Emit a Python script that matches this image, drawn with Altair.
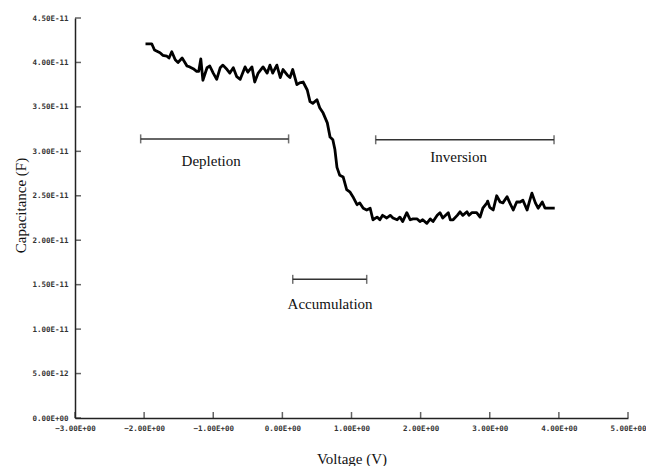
import altair as alt
import pandas as pd

# Measured C-V curve (voltage in V, capacitance in units of 1e-11 F)
voltage = [-1.98, -1.89, -1.85, -1.77, -1.73, -1.67, -1.64, -1.60, -1.55, -1.51,
           -1.45, -1.41, -1.38, -1.34, -1.29, -1.24, -1.21, -1.18, -1.15, -1.09,
           -1.05, -1.00, -0.95, -0.90, -0.86, -0.80, -0.76, -0.71, -0.66, -0.61,
           -0.54, -0.50, -0.44, -0.40, -0.35, -0.28, -0.22, -0.18, -0.14, -0.08,
           -0.03, 0.01, 0.07, 0.11, 0.15, 0.21, 0.25, 0.30, 0.36, 0.40,
           0.44, 0.50, 0.54, 0.59, 0.65, 0.69, 0.73, 0.76, 0.79, 0.83,
           0.88, 0.93, 0.98, 1.02, 1.08, 1.12, 1.17, 1.22, 1.27, 1.31,
           1.37, 1.41, 1.45, 1.51, 1.56, 1.60, 1.66, 1.70, 1.74, 1.80,
           1.85, 1.89, 1.95, 1.99, 2.03, 2.09, 2.14, 2.18, 2.24, 2.28,
           2.32, 2.40, 2.43, 2.47, 2.53, 2.57, 2.61, 2.67, 2.70, 2.74,
           2.81, 2.86, 2.90, 2.96, 2.97, 3.00, 3.05, 3.10, 3.15, 3.19,
           3.25, 3.29, 3.34, 3.39, 3.44, 3.48, 3.54, 3.58, 3.61, 3.66,
           3.70, 3.76, 3.80, 3.87, 3.94]
cap_e11 = [4.21, 4.21, 4.14, 4.11, 4.08, 4.07, 4.05, 4.12, 4.03, 4.00,
           4.05, 4.00, 3.96, 3.95, 3.93, 3.90, 3.90, 4.04, 3.80, 3.94,
           3.96, 3.88, 3.81, 3.94, 3.97, 3.92, 3.88, 3.94, 3.84, 3.81,
           3.95, 3.89, 3.95, 3.78, 3.88, 3.95, 3.88, 3.97, 3.88, 3.97,
           3.83, 3.92, 3.86, 3.83, 3.92, 3.75, 3.77, 3.78, 3.69, 3.56,
           3.54, 3.58, 3.49, 3.43, 3.32, 3.16, 3.13, 3.02, 2.82, 2.73,
           2.71, 2.57, 2.54, 2.49, 2.40, 2.42, 2.36, 2.34, 2.36, 2.23,
           2.26, 2.23, 2.28, 2.25, 2.28, 2.25, 2.23, 2.26, 2.21, 2.31,
           2.23, 2.24, 2.24, 2.21, 2.23, 2.19, 2.24, 2.21, 2.28, 2.31,
           2.25, 2.31, 2.23, 2.23, 2.28, 2.32, 2.28, 2.32, 2.28, 2.31,
           2.31, 2.26, 2.36, 2.42, 2.44, 2.37, 2.34, 2.50, 2.43, 2.42,
           2.49, 2.42, 2.34, 2.43, 2.43, 2.45, 2.34, 2.45, 2.53, 2.42,
           2.36, 2.43, 2.36, 2.36, 2.36]

x_ticks = [-3, -2, -1, 0, 1, 2, 3, 4, 5]
y_ticks = [0, 5e-12, 1e-11, 1.5e-11, 2e-11, 2.5e-11, 3e-11, 3.5e-11, 4e-11, 4.5e-11]

# Region brackets and labels
region_names = ["Depletion", "Accumulation", "Inversion"]
region_start = [-2.05, 0.15, 1.35]
region_end = [0.09, 1.22, 3.93]
region_level = [3.14e-11, 1.56e-11, 3.13e-11]
label_x = [-1.03, 0.69, 2.55]
label_y = [2.89e-11, 1.28e-11, 2.94e-11]

curve = pd.DataFrame({"v": voltage, "c": [c * 1e-11 for c in cap_e11]})
xt = pd.DataFrame({"v": x_ticks})
yt = pd.DataFrame({"c": y_ticks})
regions = pd.DataFrame({"name": region_names, "x1": region_start, "x2": region_end,
                        "y": region_level, "lx": label_x, "ly": label_y})
caps = pd.DataFrame({"x": region_start + region_end, "y": region_level + region_level})

label_expr = "replace(replace(format(datum.value, '.2e'), 'e+0', 'E+00'), 'e', 'E')"

xscale = alt.Scale(domain=[-3, 5], nice=False, zero=False)
yscale = alt.Scale(domain=[0, 4.5e-11], nice=False)

xaxis = alt.Axis(values=x_ticks, labelExpr=label_expr, grid=False, ticks=False, tickSize=0,
                 labelPadding=6, labelFlush=False, labelOverlap=False,
                 labelFont="DejaVu Sans Mono", labelFontSize=7.5, labelFontWeight="bold",
                 labelColor="#333333", domainColor="#222222", domainWidth=1.5,
                 title="Voltage (V)", titleFont="Liberation Serif", titleFontSize=15,
                 titleFontWeight="normal", titleColor="#111111",
                 titleY=40, titleBaseline="middle")
yaxis = alt.Axis(values=y_ticks, labelExpr=label_expr, grid=False, ticks=False, tickSize=0,
                 labelPadding=7, labelFlush=False, labelOverlap=False,
                 labelFont="DejaVu Sans Mono", labelFontSize=7.5, labelFontWeight="bold",
                 labelColor="#333333", domainColor="#222222", domainWidth=1.5,
                 title="Capacitance (F)", titleFont="Liberation Serif", titleFontSize=15,
                 titleFontWeight="normal", titleColor="#111111",
                 titleX=-55, titleY=187, titleBaseline="middle", titleAngle=-90)

line = alt.Chart(curve).mark_line(color="black", strokeWidth=2.8, strokeJoin="round").encode(
    x=alt.X("v:Q", scale=xscale, axis=xaxis),
    y=alt.Y("c:Q", scale=yscale, axis=yaxis),
)

xtick_marks = alt.Chart(xt).mark_tick(orient="vertical", size=6, thickness=1.5,
                                      color="#222222", yOffset=-3).encode(
    x=alt.X("v:Q", scale=xscale), y=alt.datum(0))
ytick_marks = alt.Chart(yt).mark_tick(orient="horizontal", size=6, thickness=1.5,
                                      color="#222222", xOffset=3).encode(
    y=alt.Y("c:Q", scale=yscale), x=alt.datum(-3))

brackets = alt.Chart(regions).mark_rule(color="#333333", strokeWidth=1.5).encode(
    x="x1:Q", x2="x2:Q", y="y:Q")
bracket_caps = alt.Chart(caps).mark_tick(orient="vertical", size=9, thickness=1.5,
                                         color="#333333").encode(x="x:Q", y="y:Q")
labels = alt.Chart(regions).mark_text(font="Liberation Serif", fontSize=15,
                                      color="#111111", baseline="middle").encode(
    x="lx:Q", y="ly:Q", text="name:N")

chart = alt.layer(line, xtick_marks, ytick_marks, brackets, bracket_caps, labels).properties(
    width=553, height=400,
    padding={"left": 75, "top": 18, "right": 18, "bottom": 48},
    autosize=alt.AutoSizeParams(type="none"),
    background="white",
).configure_view(stroke=None)

chart.save("out.html", embed_options={"renderer": "svg", "actions": False})
